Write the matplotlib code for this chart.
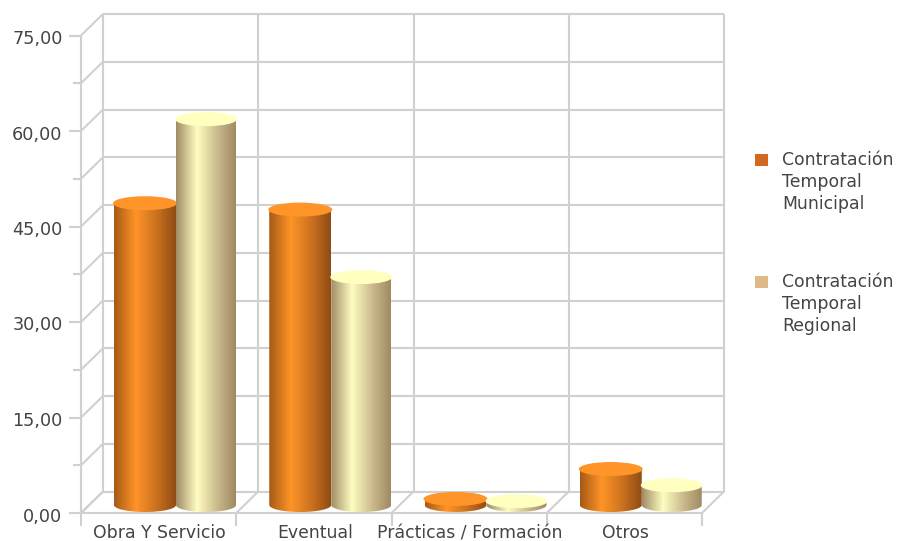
import numpy as np
import matplotlib
matplotlib.use('Agg')
import matplotlib.pyplot as plt
from matplotlib.colors import LinearSegmentedColormap
from matplotlib.patches import Ellipse, PathPatch, Rectangle
from matplotlib.path import Path

# Chart values
categories = ['Obra Y Servicio', 'Eventual', 'Prácticas / Formación', 'Otros']
municipal = [47.4, 46.4, 0.95, 5.65]
regional = [60.6, 35.8, 0.6, 3.1]
series_names = ['Contratación\nTemporal\nMunicipal', 'Contratación\nTemporal\nRegional']
y_ticks = [0, 15, 30, 45, 60, 75]
y_tick_labels = ['0,00', '15,00', '30,00', '45,00', '60,00', '75,00']

W, H = 897, 541
GRID = '#d0d0d0'
TEXT = '#444444'
FONT_TICK = 12.7
FONT_CAT = 12.4

fig = plt.figure(figsize=(W / 100, H / 100), dpi=100)
ax = fig.add_axes([81 / W, (H - 513) / H, 621 / W, 477.5 / H])
ax.axis('off')
ax.set_xlim(0, 4)
ax.set_ylim(0, 75)

# pixel sizes converted to data units
px_x = 4 / 621
px_y = 75 / 477.5
depth_x = 22 * px_x
depth_y = 21.5 * px_y


def line(xs, ys, z=1):
    ax.plot(xs, ys, color=GRID, lw=1.5, zorder=z, clip_on=False, solid_capstyle='butt')


# back wall, left wall and floor
for v in np.arange(0, 75.1, 7.5):
    line([depth_x, 4 + depth_x], [v + depth_y, v + depth_y])
    line([0, depth_x], [v, v + depth_y])
    tick = 12 if v % 15 == 0 else 8
    line([-tick * px_x, 0], [v, v])
for c in range(5):
    line([c + depth_x, c + depth_x], [depth_y, 75 + depth_y])
    line([c, c + depth_x], [0, depth_y])
    line([c, c], [0, -13 * px_y])
line([0, 0], [0, 75])
line([0, 4], [0, 0])

orange = LinearSegmentedColormap.from_list('o', ['#a65a16', '#ff9428', '#c9701f', '#8f4c14'], 256)
cream = LinearSegmentedColormap.from_list('c', ['#a08c66', '#fffdc0', '#c9b88c', '#a08a62'], 256)
stops = np.array([0, 0.35, 0.7, 1.0])


def make_gradient(cmap):
    t = np.linspace(0, 1, 256)
    vals = np.interp(t, stops, [0, 1 / 3, 2 / 3, 1])
    return cmap(vals)[np.newaxis, :, :]


def cylinder(left, width, value, cmap, top_color):
    base = 8 * px_y
    rad = 7 * px_y
    cx = left + width / 2
    t = np.linspace(np.pi, 2 * np.pi, 60)
    arc_x = cx + width / 2 * np.cos(t)
    arc_y = base + rad * np.sin(t)
    px = np.r_[left, arc_x, left + width, left]
    py = np.r_[base + value, arc_y, base + value, base + value]
    clip = PathPatch(Path(np.c_[px, py]), transform=ax.transData, fc='none', ec='none')
    ax.add_patch(clip)
    im = ax.imshow(make_gradient(cmap), extent=[left, left + width, 0, base + value + rad],
                   aspect='auto', zorder=3, interpolation='bilinear')
    im.set_clip_path(clip)
    ax.add_patch(Ellipse((cx, base + value), width + 2 * px_x, 2 * rad, fc=top_color, ec='none', zorder=3))


bar_w = 60 * px_x
start = 33 * px_x
for i in range(len(categories)):
    cylinder(i + start, bar_w + 2 * px_x, municipal[i], orange, '#ff9428')
    cylinder(i + start + bar_w + 2 * px_x, bar_w, regional[i], cream, '#ffffc0')
ax.set_xlim(0, 4)
ax.set_ylim(0, 75)

# axis labels
for v, lab in zip(y_ticks, y_tick_labels):
    ax.text(-18.5 * px_x, v - 8.5 * px_y, lab, ha='right', va='baseline', fontsize=FONT_TICK,
            color=TEXT, clip_on=False)
for i, cat in enumerate(categories):
    ax.text(i + 0.5 + 1 * px_x, -25 * px_y, cat, ha='center', va='baseline', fontsize=FONT_CAT,
            color=TEXT, clip_on=False)

# legend
legend_colors = ['#d2691e', '#deb887']
legend_y = [182, 304]
for name, col, y in zip(series_names, legend_colors, legend_y):
    fig.add_artist(Rectangle((755 / W, (H - y + 16) / H), 13 / W, 12 / H, transform=fig.transFigure,
                             fc=col, ec='none'))
    fig.text(782 / W, (H - y) / H, name, ha='left', va='center', fontsize=FONT_CAT, color=TEXT,
             linespacing=1.3)

fig.savefig('out.png', dpi=100)
